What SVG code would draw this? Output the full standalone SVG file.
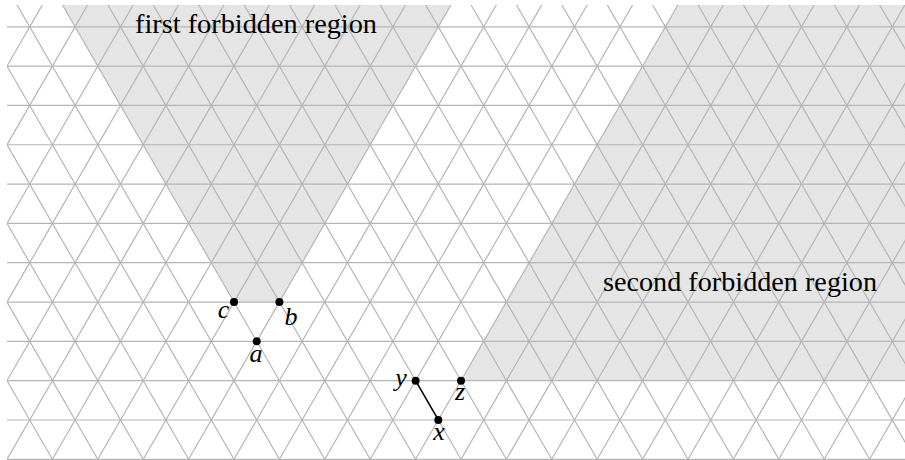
<svg xmlns="http://www.w3.org/2000/svg" width="905" height="460" viewBox="0 0 905 460">
  <style>
    .shade { fill: #e5e5e5; stroke: none; }
    .grid { fill: none; stroke: #b5b5b5; stroke-width: 1.2; }
    .edge { stroke: #000; stroke-width: 1.5; fill: none; }
    .dot { fill: #000; }
    text { font-family: 'Liberation Serif', 'Times New Roman', 'DejaVu Serif', serif; fill: #000; }
    .lbl { font-style: italic; font-size: 26px; text-anchor: middle; }
    .title { font-size: 28px; }
  </style>
  <defs>
    <clipPath id="clip">
      <rect x="7" y="5" width="898" height="455"/>
    </clipPath>
  </defs>
  <rect width="905" height="460" fill="#fff"/>
  <g id="regions">
    <polygon class="shade" points="234,302.04 279.4,302.04 450.9,5 62.5,5"/>
    <polygon class="shade" points="461,380.67 677.9,5 905,5 905,380.67"/>
  </g>
  <g id="grid" clip-path="url(#clip)" class="grid">
    <path d="M7 459.3H905M7 419.98H905M7 380.67H905M7 341.35H905M7 302.04H905M7 262.72H905M7 223.4H905M7 184.09H905M7 144.77H905M7 105.46H905M7 66.14H905M7 26.82H905"/>
    <path d="M-265.4 459.3l272.4 -471.8M-220 459.3l272.4 -471.8M-174.6 459.3l272.4 -471.8M-129.2 459.3l272.4 -471.8M-83.8 459.3l272.4 -471.8M-38.4 459.3l272.4 -471.8M7 459.3l272.4 -471.8M52.4 459.3l272.4 -471.8M97.8 459.3l272.4 -471.8M143.2 459.3l272.4 -471.8M188.6 459.3l272.4 -471.8M234 459.3l272.4 -471.8M279.4 459.3l272.4 -471.8M324.8 459.3l272.4 -471.8M370.2 459.3l272.4 -471.8M415.6 459.3l272.4 -471.8M461 459.3l272.4 -471.8M506.4 459.3l272.4 -471.8M551.8 459.3l272.4 -471.8M597.2 459.3l272.4 -471.8M642.6 459.3l272.4 -471.8M688 459.3l272.4 -471.8M733.4 459.3l272.4 -471.8M778.8 459.3l272.4 -471.8M824.2 459.3l272.4 -471.8M869.6 459.3l272.4 -471.8M915 459.3l272.4 -471.8"/>
    <path d="M7 459.3l-272.4 -471.8M52.4 459.3l-272.4 -471.8M97.8 459.3l-272.4 -471.8M143.2 459.3l-272.4 -471.8M188.6 459.3l-272.4 -471.8M234 459.3l-272.4 -471.8M279.4 459.3l-272.4 -471.8M324.8 459.3l-272.4 -471.8M370.2 459.3l-272.4 -471.8M415.6 459.3l-272.4 -471.8M461 459.3l-272.4 -471.8M506.4 459.3l-272.4 -471.8M551.8 459.3l-272.4 -471.8M597.2 459.3l-272.4 -471.8M642.6 459.3l-272.4 -471.8M688 459.3l-272.4 -471.8M733.4 459.3l-272.4 -471.8M778.8 459.3l-272.4 -471.8M824.2 459.3l-272.4 -471.8M869.6 459.3l-272.4 -471.8M915 459.3l-272.4 -471.8M960.4 459.3l-272.4 -471.8M1005.8 459.3l-272.4 -471.8M1051.2 459.3l-272.4 -471.8M1096.6 459.3l-272.4 -471.8M1142 459.3l-272.4 -471.8M1187.4 459.3l-272.4 -471.8"/>
  </g>
  <g id="region-labels">
    <text class="title" x="135" y="33" textLength="242" lengthAdjust="spacingAndGlyphs">first forbidden region</text>
    <text class="title" x="603" y="291" textLength="274" lengthAdjust="spacingAndGlyphs">second forbidden region</text>
  </g>
  <g id="connectors">
    <line class="edge" x1="415.6" y1="380.67" x2="438.3" y2="419.98"/>
  </g>
  <g id="node-c">
    <circle class="dot" cx="234" cy="302.04" r="4"/>
    <text class="lbl" x="223.5" y="318">c</text>
  </g>
  <g id="node-b">
    <circle class="dot" cx="279.4" cy="302.04" r="4"/>
    <text class="lbl" x="291" y="325">b</text>
  </g>
  <g id="node-a">
    <circle class="dot" cx="256.7" cy="341.35" r="4"/>
    <text class="lbl" x="256" y="362">a</text>
  </g>
  <g id="node-y">
    <circle class="dot" cx="415.6" cy="380.67" r="4"/>
    <text class="lbl" x="401" y="386">y</text>
  </g>
  <g id="node-z">
    <circle class="dot" cx="461" cy="380.67" r="4"/>
    <text class="lbl" x="460" y="400">z</text>
  </g>
  <g id="node-x">
    <circle class="dot" cx="438.3" cy="419.98" r="4"/>
    <text class="lbl" x="439" y="440">x</text>
  </g>
</svg>
